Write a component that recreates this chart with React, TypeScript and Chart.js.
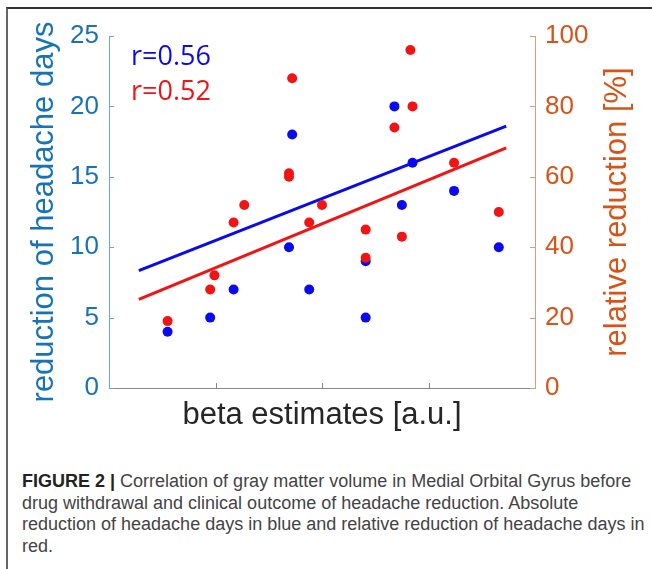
import React, { useEffect, useRef } from "react";
import { Chart, registerables } from "chart.js";

Chart.register(...registerables);

// ---- data ----
const blueBeta = [0.55, 0.95, 1.17, 1.69, 1.72, 1.88, 2.41, 2.41, 2.68, 2.75, 2.85, 3.24, 3.66];
const absReduction = [4, 5, 7, 10, 18, 7, 5, 9, 20, 13, 16, 14, 10];
const redBeta = [0.55, 0.95, 0.99, 1.17, 1.27, 1.69, 1.69, 1.72, 1.88, 2.0, 2.41, 2.41, 2.68, 2.75, 2.83, 2.85, 3.24, 3.66];
const relReduction = [19, 28, 32, 47, 52, 61, 60, 88, 47, 52, 45, 37, 74, 43, 96, 80, 64, 50];
const fitBeta = [0.28, 3.73];
const fitAbs = [8.33, 18.6];
const fitRel = [25.2, 68.2];
const xTicks = [1, 2, 3];
const leftTicks = [0, 5, 10, 15, 20, 25];
const rightTicks = [0, 20, 40, 60, 80, 100];
const rLabels = ["r=0.56", "r=0.52"];

const BLUE = "#0a0af0";
const RED = "#f01414";
const LEFT_TEXT = "#1872b8";
const LEFT_LINE = "#6aa6d2";
const RIGHT_TEXT = "#d65418";
const RIGHT_LINE = "#e49a78";
const FONT = "'Liberation Sans', Arial, sans-serif";

const W = 652;
const H = 440;
const AREA_LEFT = 109;
const AREA_RIGHT = 535;
const AREA_TOP = 36;
const AREA_BOTTOM = 388;
const TICK = 5;

const toPts = (xs: number[], ys: number[]) => xs.map((x, i) => ({ x, y: ys[i] }));

const extras = {
  id: "extras",
  afterDraw(chart: any) {
    const { ctx, chartArea: a, scales } = chart;
    ctx.save();
    ctx.lineWidth = 1;
    // inward ticks
    ctx.strokeStyle = LEFT_LINE;
    scales.y.ticks.forEach((t: any) => {
      const p = Math.round(scales.y.getPixelForValue(t.value)) + 0.5;
      ctx.beginPath();
      ctx.moveTo(a.left, p);
      ctx.lineTo(a.left + TICK, p);
      ctx.stroke();
    });
    ctx.strokeStyle = RIGHT_LINE;
    scales.y1.ticks.forEach((t: any) => {
      const p = Math.round(scales.y1.getPixelForValue(t.value)) + 0.5;
      ctx.beginPath();
      ctx.moveTo(a.right - TICK, p);
      ctx.lineTo(a.right, p);
      ctx.stroke();
    });
    ctx.strokeStyle = "#8a8a8a";
    xTicks.forEach((v) => {
      const p = Math.round(scales.x.getPixelForValue(v)) + 0.5;
      ctx.beginPath();
      ctx.moveTo(p, a.bottom);
      ctx.lineTo(p, a.bottom - TICK);
      ctx.stroke();
    });
    // right axis title (reads bottom-to-top)
    ctx.save();
    ctx.translate(617, (a.top + a.bottom) / 2);
    ctx.rotate(-Math.PI / 2);
    ctx.font = `31px ${FONT}`;
    ctx.fillStyle = RIGHT_TEXT;
    ctx.textAlign = "center";
    ctx.textBaseline = "middle";
    ctx.fillText("relative reduction [%]", 0, 0);
    ctx.restore();
    // correlation labels
    ctx.font = "27px 'Open Sans', sans-serif";
    ctx.textAlign = "left";
    ctx.textBaseline = "alphabetic";
    ctx.fillStyle = BLUE;
    ctx.fillText(rLabels[0], a.left + 22, a.top + 28.5);
    ctx.fillStyle = RED;
    ctx.fillText(rLabels[1], a.left + 22, a.top + 64);
    ctx.restore();
  },
};

export default function App() {
  const ref = useRef<HTMLCanvasElement>(null);
  useEffect(() => {
    if (!ref.current) return;
    const chart = new Chart(ref.current, {
      type: "scatter",
      data: {
        datasets: [
          {
            data: toPts(redBeta, relReduction),
            yAxisID: "y1",
            backgroundColor: RED,
            borderWidth: 0,
            pointRadius: 5,
            order: 0,
          },
          {
            data: toPts(blueBeta, absReduction),
            yAxisID: "y",
            backgroundColor: BLUE,
            borderWidth: 0,
            pointRadius: 5,
            order: 1,
          },
          {
            data: toPts(fitBeta, fitAbs),
            yAxisID: "y",
            showLine: true,
            borderColor: BLUE,
            borderWidth: 3,
            pointRadius: 0,
            order: 2,
          },
          {
            data: toPts(fitBeta, fitRel),
            yAxisID: "y1",
            showLine: true,
            borderColor: RED,
            borderWidth: 3,
            pointRadius: 0,
            order: 3,
          },
        ],
      },
      options: {
        animation: false,
        responsive: false,
        devicePixelRatio: 1,
        layout: { padding: { left: 0, right: 0, top: AREA_TOP, bottom: 0 } },
        plugins: { legend: { display: false }, tooltip: { enabled: false } },
        scales: {
          x: {
            type: "linear",
            position: "bottom",
            min: 0,
            max: 4,
            grid: { display: false, drawTicks: false },
            border: { display: true, color: "#8a8a8a", width: 1 },
            ticks: { display: false },
            afterBuildTicks: (s: any) => {
              s.ticks = xTicks.map((v) => ({ value: v }));
            },
            afterFit: (s: any) => {
              s.height = H - AREA_BOTTOM;
            },
            title: {
              display: true,
              text: "beta estimates [a.u.]",
              color: "#262626",
              font: { family: FONT, size: 31 },
              padding: { top: 0, bottom: 6 },
            },
          },
          y: {
            type: "linear",
            position: "left",
            min: 0,
            max: 25,
            grid: { display: false, drawTicks: false },
            border: { display: true, color: LEFT_LINE, width: 1 },
            afterBuildTicks: (s: any) => {
              s.ticks = leftTicks.map((v) => ({ value: v }));
            },
            ticks: { color: LEFT_TEXT, padding: 10, font: { family: FONT, size: 26 } },
            afterFit: (s: any) => {
              s.width = AREA_LEFT;
            },
            title: {
              display: true,
              text: "reduction of headache days",
              color: LEFT_TEXT,
              font: { family: FONT, size: 31 },
              padding: { top: 26, bottom: 0 },
            },
          },
          y1: {
            type: "linear",
            position: "right",
            min: 0,
            max: 100,
            grid: { display: false, drawTicks: false },
            border: { display: true, color: RIGHT_LINE, width: 1 },
            afterBuildTicks: (s: any) => {
              s.ticks = rightTicks.map((v) => ({ value: v }));
            },
            ticks: { color: RIGHT_TEXT, padding: 10, font: { family: FONT, size: 26 } },
            afterFit: (s: any) => {
              s.width = W - AREA_RIGHT;
            },
          },
        },
      },
      plugins: [extras],
    });
    return () => chart.destroy();
  }, []);

  const line: React.CSSProperties = { whiteSpace: "nowrap", height: "21.5px" };
  return (
    <div style={{ position: "fixed", left: 0, top: 0, width: W, height: 569, overflow: "hidden", background: "#fff" }}>
      <div
        style={{
          position: "absolute",
          left: 6,
          top: 7,
          width: 720,
          height: 640,
          borderTop: "2px solid #333",
          borderLeft: "2px solid #666",
        }}
      />
      <canvas ref={ref} width={W} height={H} style={{ position: "absolute", left: 0, top: 0, display: "block" }} />
      <div
        style={{
          position: "absolute",
          left: 22,
          top: 471,
          fontFamily: FONT,
          fontSize: "18px",
          lineHeight: "21.5px",
          color: "#444",
        }}
      >
        <div style={line}>
          <b style={{ color: "#222" }}>FIGURE 2 |</b> Correlation of gray matter volume in Medial Orbital Gyrus before
        </div>
        <div style={line}>drug withdrawal and clinical outcome of headache reduction. Absolute</div>
        <div style={line}>reduction of headache days in blue and relative reduction of headache days in</div>
        <div style={line}>red.</div>
      </div>
    </div>
  );
}
